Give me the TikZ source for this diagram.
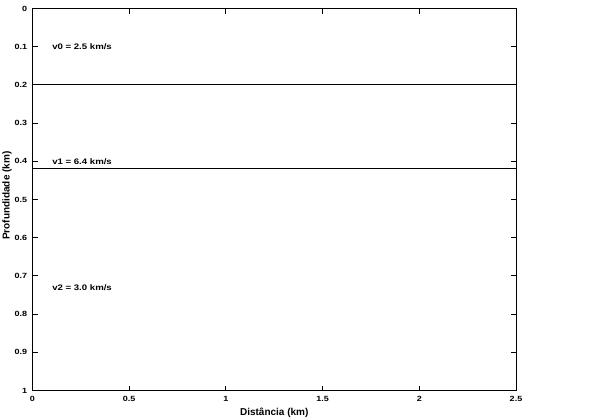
\documentclass[tikz,border=0pt]{standalone}
\usepackage{fontspec}
\setmainfont{Liberation Sans}
\usepackage{graphicx}
\usetikzlibrary{positioning}

\newcommand{\wide}[1]{\scalebox{1.2}[1]{#1}}

\begin{document}
\begin{tikzpicture}[x=193.4pt,y=-382pt,line width=0.9pt,
   every node/.style={font=\bfseries\fontsize{7.5}{9}\selectfont,inner sep=0pt},
   axlabel/.style={font=\bfseries\fontsize{10}{12}\selectfont},
   vlabel/.style={anchor=west,font=\bfseries\fontsize{8}{10}\selectfont}]
  \useasboundingbox (-32.5pt,8.5pt) rectangle (567.5pt,-409.5pt);
  % frame and ticks
  \draw (0,0) rectangle (2.5,1);
  \foreach \z in {0,0.1,...,1.01}{
    \draw (0,\z) -- ++(5pt,0) (2.5,\z) -- ++(-5pt,0);
  }
  \foreach \z/\t in {0/0,0.1/0.1,0.2/0.2,0.3/0.3,0.4/0.4,0.5/0.5,0.6/0.6,0.7/0.7,0.8/0.8,0.9/0.9,1/1}
    \node[anchor=east] (ytick\t) at ([xshift=-5pt]0,\z) {\wide{\t}};
  \foreach \d in {0,0.5,1,1.5,2,2.5}{
    \draw (\d,0) -- ++(0,-5pt) (\d,1) -- ++(0,5pt);
    \node[anchor=north] (xtick\d) at ([yshift=-5pt]\d,1) {\wide{\d}};
  }
  % layer interfaces
  \coordinate (i0w) at (0,0.2);
  \coordinate (i0e) at (2.5,0.2);
  \coordinate (i1w) at (0,0.42);
  \coordinate (i1e) at (2.5,0.42);
  \draw (i0w) -- (i0e);
  \draw (i1w) -- (i1e);
  % velocities
  \node[vlabel] (v0) at (0.1,0.1) {\wide{v0 = 2.5 km/s}};
  \node[vlabel] (v1) at (0.1,0.402) {\wide{v1 = 6.4 km/s}};
  \node[vlabel] (v2) at (0.1,0.732) {\wide{v2 = 3.0 km/s}};
  % axis titles
  \node[axlabel] (xlab) at ([yshift=-22pt]1.25,1) {Distância (km)};
  \node[axlabel,rotate=90] (ylab) at ([xshift=-25.5pt]0,0.49) {Profundidade (km)};
\end{tikzpicture}
\end{document}
